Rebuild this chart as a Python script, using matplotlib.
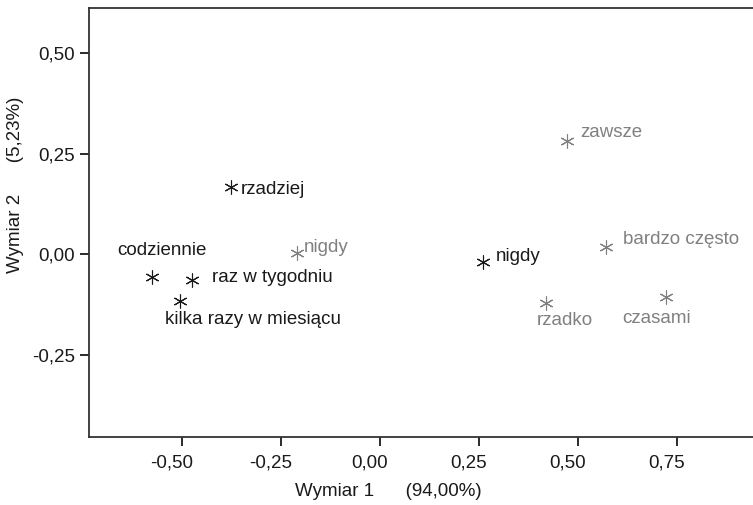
import matplotlib.pyplot as plt
import matplotlib.transforms as mtransforms

plt.rcParams['font.family'] = ['Liberation Sans', 'DejaVu Sans']

# row categories (black) and column categories (grey)
row_labels = ["codziennie", "raz w tygodniu", "kilka razy w miesiącu", "rzadziej", "nigdy"]
row_x = [-0.575, -0.476, -0.505, -0.376, 0.261]
row_y = [-0.057, -0.063, -0.115, 0.168, -0.020]

col_labels = ["nigdy", "zawsze", "bardzo często", "rzadko", "czasami"]
col_x = [-0.210, 0.472, 0.570, 0.419, 0.722]
col_y = [0.003, 0.281, 0.019, -0.121, -0.106]

# label offsets in pixels (dx, dy, horizontal alignment)
row_off = [(10, 27, "center"), (20, 2, "left"), (-15, -19, "left"), (10, -3, "left"), (12, 6, "left")]
col_off = [(7, 6, "left"), (13, 9, "left"), (17, 7, "left"), (19, -17, "center"), (-9, -21, "center")]

xticks = [-0.50, -0.25, 0.00, 0.25, 0.50, 0.75]
yticks = [-0.25, 0.00, 0.25, 0.50]

black = "#1a1a1a"
grey = "#808080"
star = (6, 2, 0)
fs = 13.5

fig = plt.figure(figsize=(7.53, 5.05), dpi=100)
ax = fig.add_axes([89 / 753, 68 / 505, 664 / 753, 429.5 / 505])

ax.plot(row_x, row_y, linestyle="none", marker=star, markersize=10,
        markeredgewidth=0.8, color=black)
ax.plot(col_x, col_y, linestyle="none", marker=star, markersize=10,
        markeredgewidth=0.8, color=grey)

for lab, x, y, (dx, dy, ha) in zip(row_labels, row_x, row_y, row_off):
    ax.annotate(lab, (x, y), xytext=(dx, dy), textcoords="offset pixels",
                ha=ha, va="center", fontsize=fs, color=black)
for lab, x, y, (dx, dy, ha) in zip(col_labels, col_x, col_y, col_off):
    ax.annotate(lab, (x, y), xytext=(dx, dy), textcoords="offset pixels",
                ha=ha, va="center", fontsize=fs, color=grey)

ax.set_xlim(-0.735, 0.942)
ax.set_ylim(-0.454, 0.614)
ax.set_xticks(xticks)
ax.set_yticks(yticks)
ax.set_xticklabels([f"{v:.2f}".replace(".", ",") for v in xticks])
ax.set_yticklabels([f"{v:.2f}".replace(".", ",") for v in yticks])
ax.tick_params(direction="out", length=6.5, width=1.3, colors=black,
               labelsize=fs, labelcolor=black)
ax.tick_params(axis="x", pad=6)
ax.tick_params(axis="y", pad=3.5)

# x tick labels sit a little left of their ticks
shift = mtransforms.ScaledTranslation(-10 / 100, 0, fig.dpi_scale_trans)
for t in ax.get_xticklabels():
    t.set_transform(t.get_transform() + shift)

for side in ["left", "bottom", "top"]:
    ax.spines[side].set_color("#333333")
    ax.spines[side].set_linewidth(1.3)
ax.spines["right"].set_visible(False)

ax.text(388 / 753, 1 - 491.7 / 505, "Wymiar 1      (94,00%)", transform=fig.transFigure,
        ha="center", va="center", fontsize=fs, color=black)
ax.text(15.5 / 753, 1 - 185 / 505, "Wymiar 2      (5,23%)", transform=fig.transFigure,
        ha="center", va="center", rotation=90, fontsize=fs, color=black)

fig.savefig("out.png", dpi=100)
